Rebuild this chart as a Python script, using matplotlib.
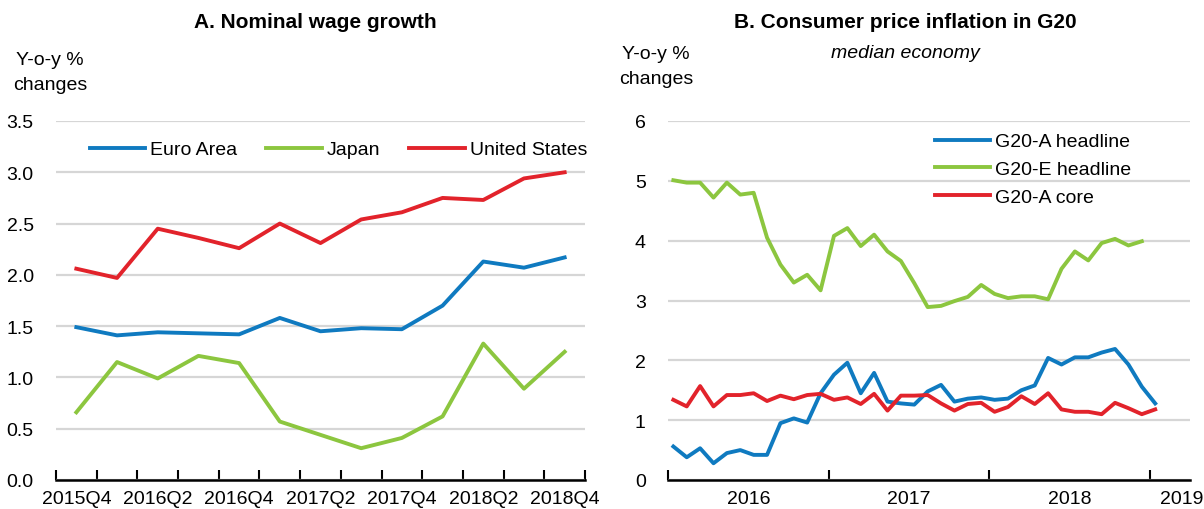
import numpy as np
import matplotlib
matplotlib.use("Agg")
import matplotlib.pyplot as plt

plt.rcParams["font.family"] = ["Liberation Sans", "DejaVu Sans"]

# Panel A: nominal wage growth, quarterly
quarters = ["2015Q4", "2016Q1", "2016Q2", "2016Q3", "2016Q4", "2017Q1", "2017Q2",
            "2017Q3", "2017Q4", "2018Q1", "2018Q2", "2018Q3", "2018Q4"]
euro_area = [1.49, 1.41, 1.44, 1.43, 1.42, 1.58, 1.45, 1.48, 1.47, 1.70, 2.13, 2.07, 2.17]
japan = [0.66, 1.15, 0.99, 1.21, 1.14, 0.57, 0.44, 0.31, 0.41, 0.62, 1.33, 0.89, 1.25]
united_states = [2.06, 1.97, 2.45, 2.36, 2.26, 2.50, 2.31, 2.54, 2.61, 2.75, 2.73, 2.94, 3.00]

# Panel B: CPI inflation in G20, monthly from Jan 2016
g20a_headline = [0.56, 0.38, 0.53, 0.28, 0.45, 0.50, 0.42, 0.42, 0.95, 1.03, 0.96, 1.45,
                 1.76, 1.96, 1.45, 1.79, 1.31, 1.28, 1.26, 1.48, 1.59, 1.31, 1.36, 1.38,
                 1.34, 1.36, 1.50, 1.58, 2.04, 1.93, 2.05, 2.05, 2.13, 2.19, 1.93, 1.56,
                 1.28]
g20e_headline = [5.01, 4.97, 4.97, 4.72, 4.97, 4.77, 4.80, 4.05, 3.60, 3.30, 3.43, 3.17,
                 4.08, 4.21, 3.91, 4.10, 3.82, 3.66, 3.29, 2.89, 2.91, 2.99, 3.06, 3.26,
                 3.11, 3.04, 3.07, 3.07, 3.02, 3.53, 3.82, 3.67, 3.96, 4.03, 3.92, 3.99]
g20a_core = [1.34, 1.23, 1.57, 1.23, 1.42, 1.42, 1.45, 1.32, 1.41, 1.35, 1.42, 1.44,
             1.34, 1.38, 1.27, 1.44, 1.16, 1.41, 1.41, 1.42, 1.28, 1.16, 1.27, 1.29,
             1.14, 1.22, 1.40, 1.27, 1.45, 1.18, 1.14, 1.14, 1.10, 1.29, 1.20, 1.10,
             1.18]
years = ["2016", "2017", "2018", "2019"]

blue = "#0F7AC0"
green = "#8CC63F"
red = "#E2232B"
grid = "#D6D6D6"
fs = 14
lw = 2.8

fig = plt.figure(figsize=(12.04, 5.10), dpi=100)
axA = fig.add_axes([56 / 1204, 29 / 510, 529 / 1204, 359 / 510])
axB = fig.add_axes([668 / 1204, 29 / 510, 522 / 1204, 359 / 510])

for ax in (axA, axB):
    for s in ("top", "right", "left"):
        ax.spines[s].set_visible(False)
    ax.spines["bottom"].set_linewidth(1.8)
    ax.spines["bottom"].set_zorder(5)
    ax.yaxis.grid(True, color=grid, linewidth=1.6)
    ax.set_axisbelow(True)
    ax.tick_params(axis="y", length=0, labelsize=fs, pad=16)
    ax.tick_params(axis="x", which="major", direction="in", length=7, width=1.5,
                   labelsize=fs)

# Panel A
xq = np.arange(len(quarters))
axA.plot(xq, euro_area, color=blue, lw=lw, label="Euro Area")
axA.plot(xq, japan, color=green, lw=lw, label="Japan")
axA.plot(xq, united_states, color=red, lw=lw, label="United States")
axA.set_xlim(-0.5, len(quarters) - 0.5)
axA.set_ylim(0, 3.5)
axA.set_yticks(np.arange(0, 3.51, 0.5))
axA.set_yticklabels(["%.1f" % v for v in np.arange(0, 3.51, 0.5)])
axA.set_xticks(np.arange(-0.5, len(quarters), 1.0))
axA.set_xticklabels([])
axA.set_xticks(xq[::2], minor=True)
axA.set_xticklabels(quarters[::2], minor=True)
axA.tick_params(axis="x", which="minor", length=0, labelsize=fs, pad=7)
axA.legend(loc="upper left", bbox_to_anchor=(0.064, 0.945), ncol=3, frameon=False,
           fontsize=fs, handlelength=2.85, handletextpad=0.25, columnspacing=1.5,
           borderpad=0, borderaxespad=0)
fig.text(315 / 1204, 1 - 22 / 510, "A. Nominal wage growth", ha="center",
         va="center", fontsize=15, fontweight="bold")
fig.text(50 / 1204, 1 - 73 / 510, "Y-o-y %\nchanges", ha="center", va="center",
         fontsize=fs, linespacing=1.6)

# Panel B
xm = np.arange(len(g20a_headline)) + 0.4
axB.plot(xm, g20a_headline, color=blue, lw=lw, label="G20-A headline")
axB.plot(xm[:len(g20e_headline)], g20e_headline, color=green, lw=lw, label="G20-E headline")
axB.plot(xm, g20a_core, color=red, lw=lw, label="G20-A core")
axB.set_xlim(0, 39)
axB.set_ylim(0, 6)
axB.set_yticks(range(0, 7))
axB.set_xticks([0, 12, 24, 36])
axB.set_xticklabels([])
axB.set_xticks([6, 18, 30, 38.4], minor=True)
axB.set_xticklabels(years, minor=True)
axB.tick_params(axis="x", which="minor", length=0, labelsize=fs, pad=7)
axB.legend(loc="upper left", bbox_to_anchor=(0.511, 0.967), ncol=1, frameon=False,
           fontsize=fs, handlelength=2.85, handletextpad=0.25, labelspacing=0.52,
           borderpad=0, borderaxespad=0)
fig.text(905 / 1204, 1 - 22 / 510, "B. Consumer price inflation in G20", ha="center",
         va="center", fontsize=15, fontweight="bold")
fig.text(905 / 1204, 1 - 54 / 510, "median economy", ha="center", va="center",
         fontsize=fs, style="italic")
fig.text(656 / 1204, 1 - 67 / 510, "Y-o-y %\nchanges", ha="center", va="center",
         fontsize=fs, linespacing=1.6)

fig.savefig("out.png", dpi=100)
